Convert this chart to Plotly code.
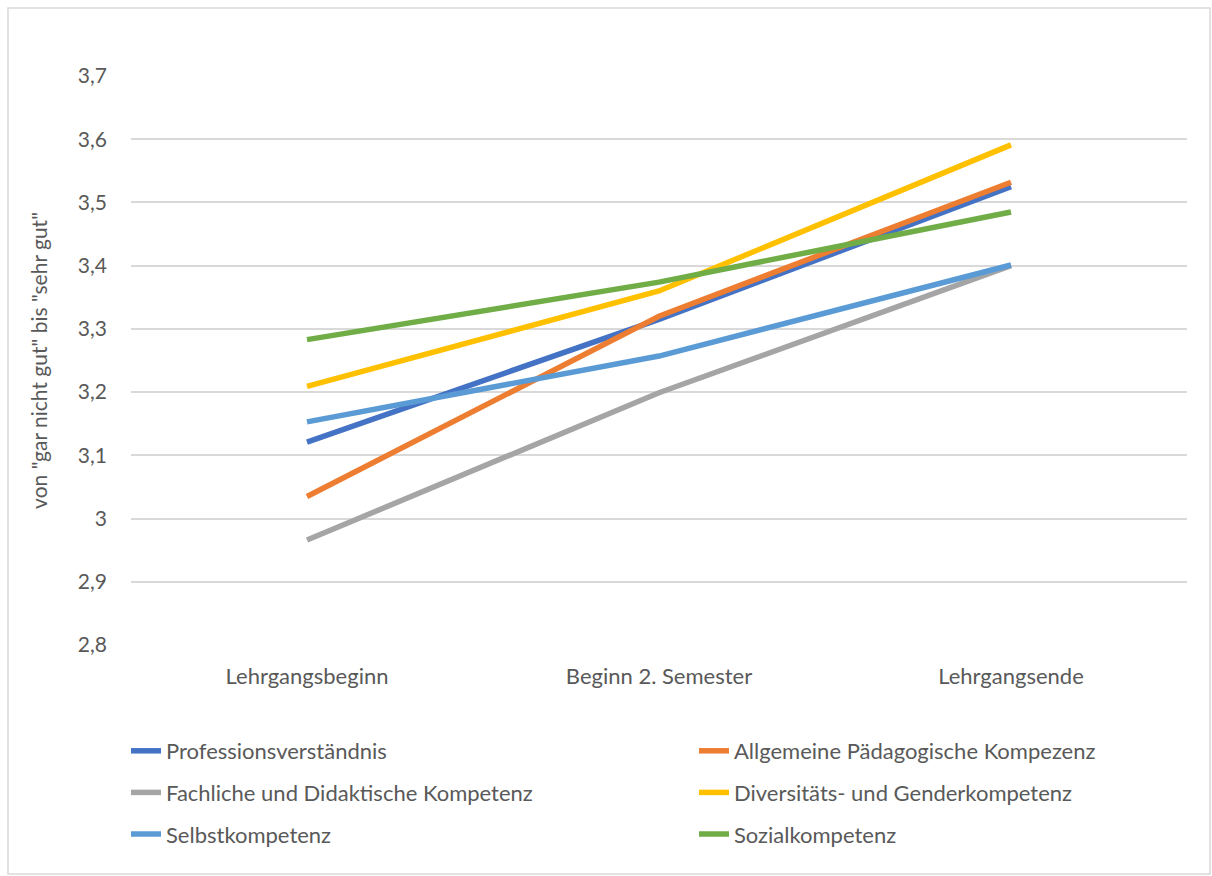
import plotly.graph_objects as go

categories = ["Lehrgangsbeginn", "Beginn 2. Semester", "Lehrgangsende"]

series_names = [
    "Professionsverständnis",
    "Allgemeine Pädagogische Kompezenz",
    "Fachliche und Didaktische Kompetenz",
    "Diversitäts- und Genderkompetenz",
    "Selbstkompetenz",
    "Sozialkompetenz",
]
professionsverstaendnis = [3.121, 3.315, 3.525]
allgemeine_paedagogik = [3.035, 3.320, 3.532]
fachliche_didaktik = [2.966, 3.199, 3.400]
diversitaet_gender = [3.209, 3.360, 3.591]
selbstkompetenz = [3.153, 3.257, 3.401]
sozialkompetenz = [3.283, 3.374, 3.485]
series_values = [
    professionsverstaendnis,
    allgemeine_paedagogik,
    fachliche_didaktik,
    diversitaet_gender,
    selbstkompetenz,
    sozialkompetenz,
]
colors = ["#4472C4", "#ED7D31", "#A5A5A5", "#FFC000", "#5B9BD5", "#70AD47"]
# legend column for each series (left column / right column)
legend_column = ["legend", "legend2", "legend", "legend2", "legend", "legend2"]

y_ticks = [2.8, 2.9, 3.0, 3.1, 3.2, 3.3, 3.4, 3.5, 3.6, 3.7]
y_title = 'von "gar nicht gut" bis "sehr gut"'

W, H = 1212, 876
ML, MR, MT, MB = 131, 25, 76, 231
FONT = "Lato"
TEXT = "#595959"
pw = W - ML - MR
ph = H - MT - MB


def px_x(px):
    return (px - ML) / pw


def px_y(py):
    return 1 - (py - MT) / ph


fig = go.Figure()
for i, (name, vals, col) in enumerate(zip(series_names, series_values, colors)):
    fig.add_trace(go.Scatter(
        x=categories, y=vals, name=name, mode="lines",
        line=dict(color=col, width=5.5),
        legend=legend_column[i], legendgroup=f"g{i}",
    ))

legend_style = dict(
    orientation="v",
    yanchor="top",
    xanchor="left",
    itemwidth=30,
    tracegroupgap=10,
    traceorder="grouped",
    font=dict(family=FONT, size=22, color=TEXT),
    bgcolor="rgba(0,0,0,0)",
)

fig.update_layout(
    width=W, height=H,
    margin=dict(l=ML, r=MR, t=MT, b=MB),
    paper_bgcolor="white", plot_bgcolor="white",
    separators=",.",
    font=dict(family=FONT, size=21, color=TEXT),
    showlegend=True,
    legend=dict(x=px_x(126), y=px_y(730), **legend_style),
    legend2=dict(x=px_x(694), y=px_y(730), **legend_style),
    xaxis=dict(
        type="category",
        range=[-0.5, 2.5],
        showgrid=False, zeroline=False,
        showline=False, ticks="",
        ticklabelstandoff=16,
        tickfont=dict(family=FONT, size=22, color=TEXT),
    ),
    yaxis=dict(
        range=[2.8, 3.7],
        tickvals=y_ticks,
        tickformat=".1~f",
        showgrid=True, gridcolor="#D9D9D9", gridwidth=1.6,
        zeroline=False, showline=False, ticks="",
        ticklabelstandoff=23,
        tickfont=dict(family=FONT, size=21, color=TEXT),
        title=dict(text=y_title, font=dict(family=FONT, size=21, color=TEXT), standoff=24),
    ),
)

# outer chart frame
fig.add_shape(
    type="rect", xref="paper", yref="paper",
    x0=px_x(8), x1=px_x(W - 2),
    y0=px_y(H - 2), y1=px_y(8),
    line=dict(color="#D9D9D9", width=1.5), layer="below",
)

fig.write_html("out.html")
